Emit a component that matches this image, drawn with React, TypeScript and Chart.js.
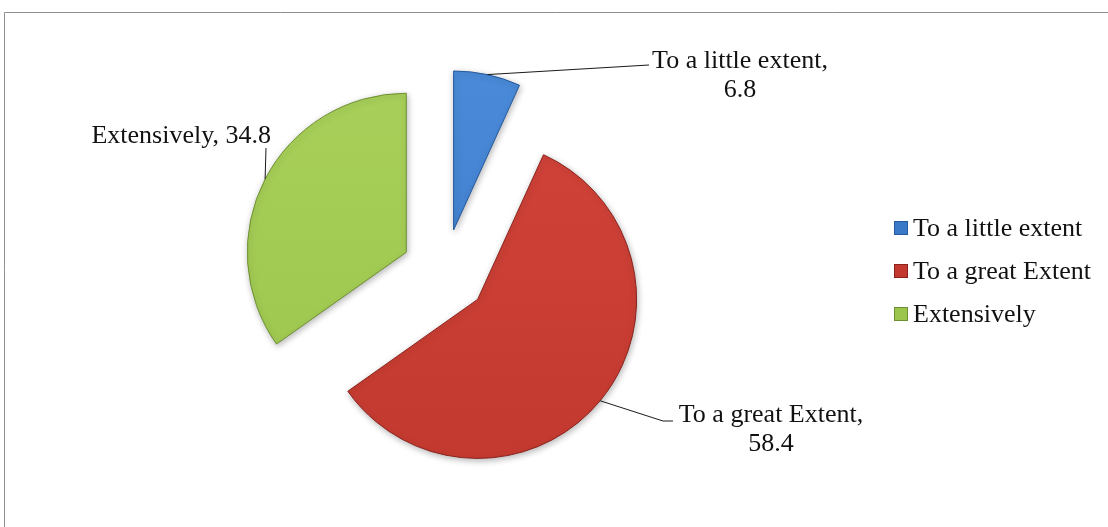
import React, { useEffect, useRef } from "react";
import { Chart, registerables } from "chart.js";

Chart.register(...registerables);

// ---- data ----
const categories = ["To a little extent", "To a great Extent", "Extensively"];
const values = [6.8, 58.4, 34.8];
const sliceColors = ["#3A78C8", "#C3392F", "#9BC54C"];
const sliceLights = ["#4A8AD8", "#D2443A", "#A8D05A"];
const sliceEdges = ["#255A9E", "#8A231D", "#6E9032"];

// ---- layout / style ----
const EXPLODE = 43;
const RADIUS = 159;
const FONT = '26px "Liberation Serif", "Times New Roman", serif';
const LINE_GAP = 29;

// per-slice label placement (annotation layout, not data)
const labelLayout = [
  { x: 740, y: 68, align: "center", wrap: true, leader: [[649, 65]] },
  { x: 771, y: 422, align: "center", wrap: true, leader: [[663, 421], [673, 421]] },
  { x: 271, y: 143, align: "right", wrap: false, leader: [[266, 148]] },
];
const legendLayout = { x: 894, y: 228, rowGap: 43, box: 14, textGap: 5 };

const explodePlugin = {
  id: "explode",
  afterDatasetUpdate(chart: any, args: any) {
    args.meta.data.forEach((arc: any) => {
      const mid = (arc.startAngle + arc.endAngle) / 2;
      arc.x += Math.cos(mid) * EXPLODE;
      arc.y += Math.sin(mid) * EXPLODE;
    });
  },
};

const framePlugin = {
  id: "frame",
  beforeDraw(chart: any) {
    const ctx = chart.ctx;
    ctx.save();
    ctx.fillStyle = "#ffffff";
    ctx.fillRect(0, 0, chart.width, chart.height);
    ctx.strokeStyle = "#8f8f8f";
    ctx.lineWidth = 1;
    ctx.beginPath();
    ctx.moveTo(4.5, chart.height);
    ctx.lineTo(4.5, 12.5);
    ctx.lineTo(chart.width, 12.5);
    ctx.stroke();
    ctx.restore();
  },
};

const shadowPlugin = {
  id: "softShadow",
  beforeDatasetsDraw(chart: any) {
    const ctx = chart.ctx;
    ctx.save();
    ctx.shadowColor = "rgba(0,0,0,0.28)";
    ctx.shadowBlur = 6;
    ctx.shadowOffsetX = 1;
    ctx.shadowOffsetY = 2;
  },
  afterDatasetsDraw(chart: any) {
    chart.ctx.restore();
  },
};

const shadedFill = (context: any) => {
  const i = context.dataIndex;
  const chart = context.chart;
  const area = chart.chartArea;
  if (!area) return sliceColors[i];
  const cy = (area.top + area.bottom) / 2;
  const g = chart.ctx.createLinearGradient(0, cy - RADIUS - EXPLODE, 0, cy + RADIUS + EXPLODE);
  g.addColorStop(0, sliceLights[i]);
  g.addColorStop(1, sliceColors[i]);
  return g;
};

const labelPlugin = {
  id: "sliceLabels",
  afterDraw(chart: any) {
    const ctx = chart.ctx;
    const meta = chart.getDatasetMeta(0);
    const ds = chart.data.datasets[0];
    ctx.save();
    ctx.font = FONT;
    ctx.fillStyle = "#111111";
    ctx.strokeStyle = "#1a1a1a";
    ctx.lineWidth = 1;
    meta.data.forEach((arc: any, i: number) => {
      const lay = labelLayout[i];
      const mid = (arc.startAngle + arc.endAngle) / 2;
      const sx = arc.x + Math.cos(mid) * arc.outerRadius;
      const sy = arc.y + Math.sin(mid) * arc.outerRadius;
      ctx.beginPath();
      ctx.moveTo(sx, sy);
      lay.leader.forEach((p) => ctx.lineTo(p[0], p[1]));
      ctx.stroke();
      const name = chart.data.labels[i];
      const val = String(ds.data[i]);
      ctx.textAlign = lay.align;
      ctx.textBaseline = "alphabetic";
      if (lay.wrap) {
        ctx.fillText(name + ",", lay.x, lay.y);
        ctx.fillText(val, lay.x, lay.y + LINE_GAP);
      } else {
        ctx.fillText(name + ", " + val, lay.x, lay.y);
      }
    });

    // legend
    const L = legendLayout;
    chart.data.labels.forEach((name: string, i: number) => {
      const cy = L.y + i * L.rowGap;
      const bx = L.x;
      const by = cy - L.box / 2;
      ctx.fillStyle = sliceColors[i];
      ctx.fillRect(bx, by, L.box, L.box);
      ctx.strokeStyle = sliceEdges[i];
      ctx.strokeRect(bx + 0.5, by + 0.5, L.box - 1, L.box - 1);
      ctx.fillStyle = "#111111";
      ctx.textAlign = "left";
      ctx.textBaseline = "alphabetic";
      ctx.fillText(name, bx + L.box + L.textGap, cy + 8);
    });
    ctx.restore();
  },
};

export default function App() {
  const ref = useRef<HTMLCanvasElement>(null);
  useEffect(() => {
    if (!ref.current) return;
    const chart = new Chart(ref.current, {
      type: "pie",
      data: {
        labels: categories,
        datasets: [
          {
            data: values,
            backgroundColor: shadedFill,
            borderColor: sliceEdges,
            borderWidth: 1,
          },
        ],
      },
      options: {
        responsive: true,
        maintainAspectRatio: false,
        animation: false,
        radius: RADIUS,
        layout: { padding: { left: 0, right: 219, top: 17, bottom: 0 } },
        plugins: {
          legend: { display: false },
          tooltip: { enabled: false },
          title: { display: false },
        },
        events: [],
      } as any,
      plugins: [framePlugin, explodePlugin, shadowPlugin, labelPlugin],
    });
    return () => chart.destroy();
  }, []);
  return (
    <div
      style={{
        position: "absolute",
        left: 0,
        top: 0,
        width: 1108,
        height: 527,
        background: "#ffffff",
      }}
    >
      <canvas ref={ref} />
    </div>
  );
}
